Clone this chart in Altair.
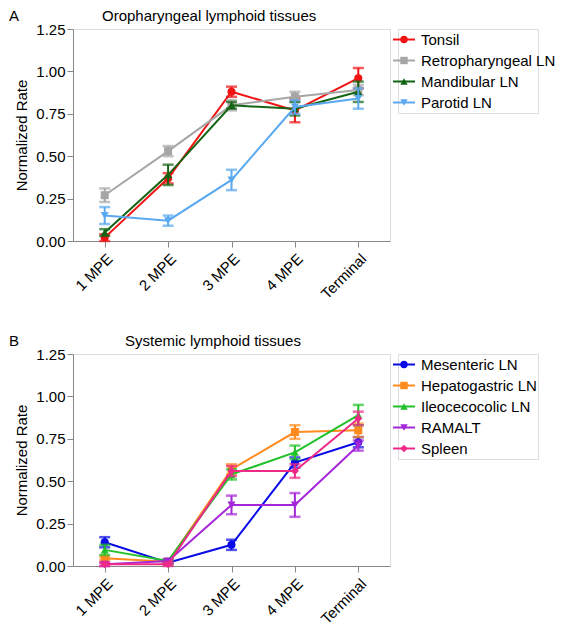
import altair as alt
import pandas as pd

stages = ["1 MPE", "2 MPE", "3 MPE", "4 MPE", "Terminal"]

# Panel A: Oropharyngeal lymphoid tissues
series_a = ["Tonsil", "Retropharyngeal LN", "Mandibular LN", "Parotid LN"]
colors_a = ["#f01414", "#a6a6a6", "#146414", "#5aa8f0"]
shapes_a = ["circle", "square", "triangle-up", "triangle-down"]
tonsil = [0.02, 0.37, 0.88, 0.77, 0.96]
tonsil_sem = [0.02, 0.03, 0.03, 0.07, 0.06]
retro = [0.27, 0.53, 0.80, 0.85, 0.89]
retro_sem = [0.04, 0.03, 0.03, 0.03, 0.03]
mandib = [0.05, 0.39, 0.80, 0.78, 0.88]
mandib_sem = [0.02, 0.06, 0.02, 0.04, 0.06]
parotid = [0.15, 0.12, 0.36, 0.79, 0.84]
parotid_sem = [0.05, 0.03, 0.06, 0.04, 0.06]

# Panel B: Systemic lymphoid tissues
series_b = ["Mesenteric LN", "Hepatogastric LN", "Ileocecocolic LN", "RAMALT", "Spleen"]
colors_b = ["#0a0ae6", "#ff8a1e", "#22c02a", "#a526d8", "#ee2a88"]
shapes_b = ["circle", "square", "triangle-up", "triangle-down", "diamond"]
mesen = [0.14, 0.02, 0.125, 0.61, 0.73]
mesen_sem = [0.03, 0.01, 0.03, 0.03, 0.03]
hepato = [0.045, 0.025, 0.57, 0.79, 0.80]
hepato_sem = [0.01, 0.01, 0.03, 0.04, 0.04]
ileo = [0.095, 0.03, 0.54, 0.67, 0.89]
ileo_sem = [0.03, 0.01, 0.03, 0.04, 0.06]
ramalt = [0.01, 0.03, 0.36, 0.36, 0.71]
ramalt_sem = [0.01, 0.01, 0.055, 0.07, 0.03]
spleen = [0.01, 0.01, 0.56, 0.56, 0.87]
spleen_sem = [0.01, 0.01, 0.03, 0.04, 0.04]

y_ticks = [0, 0.25, 0.5, 0.75, 1.0, 1.25]
FONT = "Liberation Sans"


def make_df(names, means, sems):
    rows = []
    for n, m, s in zip(names, means, sems):
        for st, v, e in zip(stages, m, s):
            rows.append({"series": n, "stage": st, "mean": v, "lo": max(v - e, 0), "hi": v + e})
    return pd.DataFrame(rows)


def panel(names, colors, shapes, means, sems, title, letter, title_dx):
    df = make_df(names, means, sems)
    color = alt.Color("series:N", scale=alt.Scale(domain=names, range=colors), legend=None)
    shape = alt.Shape("series:N", scale=alt.Scale(domain=names, range=shapes), legend=None)
    x = alt.X("stage:N", sort=stages, scale=alt.Scale(type="point", padding=0.5),
              axis=alt.Axis(title=None, labelAngle=-45, labelFontSize=15, tickSize=6,
                            labelPadding=4))
    yscale = alt.Scale(domain=[0, 1.25], nice=False)
    y = alt.Y("mean:Q", scale=yscale,
              axis=alt.Axis(title="Normalized Rate", values=y_ticks, format=".2f",
                            grid=False, labelFontSize=15, titleFontSize=15,
                            titleFontWeight="normal", tickSize=6, titlePadding=6))
    base = alt.Chart(df)
    layers = []
    for n in names:
        sub = base.transform_filter(alt.datum.series == n)
        line = sub.mark_line(strokeWidth=2).encode(x=x, y=y, color=color)
        rule = sub.mark_rule(strokeWidth=2).encode(
            x=x, y=alt.Y("lo:Q", scale=yscale), y2="hi:Q", color=color)
        tlo = sub.mark_tick(size=11, thickness=2.5).encode(
            x=x, y=alt.Y("lo:Q", scale=yscale), color=color)
        thi = sub.mark_tick(size=11, thickness=2.5).encode(
            x=x, y=alt.Y("hi:Q", scale=yscale), color=color)
        pts = sub.mark_point(filled=True, size=65, opacity=1).encode(
            x=x, y=y, color=color, shape=shape)
        layers += [line, rule, tlo, thi, pts]
    lab = alt.Chart(pd.DataFrame({"t": [letter]})).mark_text(
        align="left", baseline="middle", fontSize=15, font=FONT, color="black"
    ).encode(text="t:N", x=alt.value(-64), y=alt.value(-13))
    ttl = alt.Chart(pd.DataFrame({"t": [title]})).mark_text(
        align="left", baseline="middle", fontSize=15, font=FONT, color="black"
    ).encode(text="t:N", x=alt.value(title_dx), y=alt.value(-13))
    layers += [lab, ttl]
    plot = alt.layer(*layers).properties(width=317, height=212)

    ldf = pd.DataFrame({"series": names})
    ly = alt.Y("series:N", sort=names, axis=None, scale=alt.Scale(type="point", padding=0.5))
    lcolor = alt.Color("series:N", scale=alt.Scale(domain=names, range=colors), legend=None)
    lshape = alt.Shape("series:N", scale=alt.Scale(domain=names, range=shapes), legend=None)
    lb = alt.Chart(ldf)
    lrule = lb.mark_rule(strokeWidth=2).encode(
        y=ly, x=alt.value(-5), x2=alt.value(17), color=lcolor)
    lpt = lb.mark_point(filled=True, size=55, opacity=1).encode(
        y=ly, x=alt.value(6), color=lcolor, shape=lshape)
    ltxt = lb.mark_text(align="left", baseline="middle", fontSize=15, font=FONT,
                        color="black").encode(y=ly, x=alt.value(23), text="series:N")
    legend = alt.layer(lrule, lpt, ltxt).properties(width=140, height=21 * len(names))
    return alt.hconcat(plot, legend, spacing=0)


pa = panel(series_a, colors_a, shapes_a, [tonsil, retro, mandib, parotid],
           [tonsil_sem, retro_sem, mandib_sem, parotid_sem],
           "Oropharyngeal lymphoid tissues", "A", 29)
pb = panel(series_b, colors_b, shapes_b, [mesen, hepato, ileo, ramalt, spleen],
           [mesen_sem, hepato_sem, ileo_sem, ramalt_sem, spleen_sem],
           "Systemic lymphoid tissues", "B", 52)

chart = alt.vconcat(pa, pb, spacing=30).resolve_scale(
    color="independent", shape="independent"
).properties(padding=0).configure_view(stroke=None).configure_axis(
    domainColor="black", tickColor="black", domainWidth=2, tickWidth=2,
    labelColor="black", titleColor="black", labelFont=FONT, titleFont=FONT
).configure(font=FONT, background="white")

chart.save("out.html", embed_options={"renderer": "svg", "actions": False})
